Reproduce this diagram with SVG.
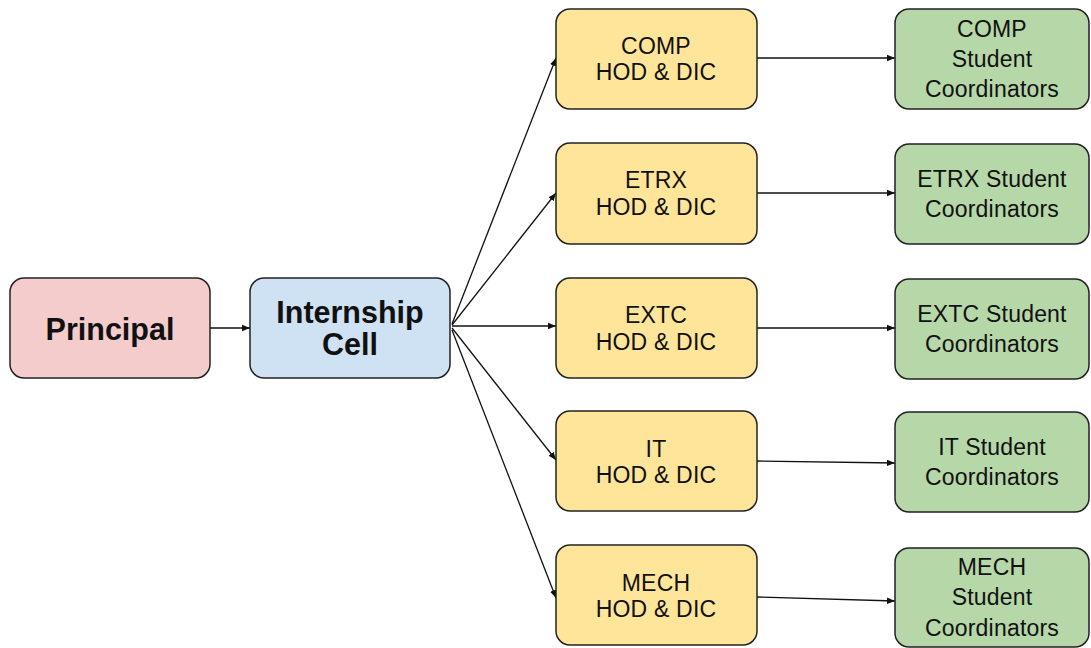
<svg xmlns="http://www.w3.org/2000/svg" width="1091" height="648" viewBox="0 0 1091 648" font-family="Liberation Sans, Arial, sans-serif">
<style>
.n{stroke:#222;stroke-width:1.5}
.p{fill:#f4cccc}.b{fill:#cfe2f3}.y{fill:#ffe599}.g{fill:#b6d7a8}
text{font-family:"Liberation Sans",Arial,sans-serif;fill:#111;text-anchor:middle}
.big{font-size:30.5px;font-weight:bold}
.sm{font-size:23px;letter-spacing:0.2px}
.c{stroke:#111;stroke-width:1.3;fill:none;marker-end:url(#ah)}
</style>
<defs>
<marker id="ah" viewBox="0 0 10 10" refX="10" refY="5" markerWidth="8" markerHeight="8" markerUnits="userSpaceOnUse" orient="auto">
<path d="M0,1 L10,5 L0,9 z" fill="#111"/>
</marker>
</defs>
<rect width="1091" height="648" fill="#fff"/>
<g id="connectors">
<line class="c" x1="210" y1="328" x2="250" y2="328"/>
<line class="c" x1="452" y1="324" x2="556" y2="58"/>
<line class="c" x1="452" y1="325" x2="556" y2="193"/>
<line class="c" x1="452" y1="326" x2="556" y2="326"/>
<line class="c" x1="452" y1="328" x2="556" y2="460"/>
<line class="c" x1="452" y1="330" x2="556" y2="598"/>
<line class="c" x1="757" y1="58" x2="895" y2="58"/>
<line class="c" x1="757" y1="193" x2="895" y2="193"/>
<line class="c" x1="757" y1="328" x2="895" y2="328"/>
<line class="c" x1="757" y1="461" x2="895" y2="463"/>
<line class="c" x1="757" y1="597" x2="895" y2="601"/>
</g>
<g id="principal"><rect class="n p" x="10" y="278" width="200" height="100" rx="14"/><text class="big" x="110" y="339.5">Principal</text></g>
<g id="internship"><rect class="n b" x="250" y="278" width="200" height="100" rx="14"/><text class="big" x="350" y="323">Internship</text><text class="big" x="350" y="355">Cell</text></g>
<g id="comp-hod"><rect class="n y" x="556" y="9" width="201" height="100" rx="14"/><text class="sm" x="656" y="53.5">COMP</text><text class="sm" x="656" y="80">HOD &amp; DIC</text></g>
<g id="etrx-hod"><rect class="n y" x="556" y="143" width="201" height="101" rx="14"/><text class="sm" x="656" y="188.3">ETRX</text><text class="sm" x="656" y="215">HOD &amp; DIC</text></g>
<g id="extc-hod"><rect class="n y" x="556" y="278" width="201" height="100" rx="14"/><text class="sm" x="656" y="323">EXTC</text><text class="sm" x="656" y="350">HOD &amp; DIC</text></g>
<g id="it-hod"><rect class="n y" x="556" y="411" width="201" height="100" rx="14"/><text class="sm" x="656" y="456.5">IT</text><text class="sm" x="656" y="483">HOD &amp; DIC</text></g>
<g id="mech-hod"><rect class="n y" x="556" y="545" width="201" height="100" rx="14"/><text class="sm" x="656" y="590.5">MECH</text><text class="sm" x="656" y="617">HOD &amp; DIC</text></g>
<g id="comp-sc"><rect class="n g" x="895" y="9" width="194" height="100" rx="14"/><text class="sm" x="992" y="36.5">COMP</text><text class="sm" x="992" y="67">Student</text><text class="sm" x="992" y="97.3">Coordinators</text></g>
<g id="etrx-sc"><rect class="n g" x="895" y="144" width="194" height="100" rx="14"/><text class="sm" x="992" y="186.5">ETRX Student</text><text class="sm" x="992" y="217">Coordinators</text></g>
<g id="extc-sc"><rect class="n g" x="895" y="279" width="194" height="100" rx="14"/><text class="sm" x="992" y="321.5">EXTC Student</text><text class="sm" x="992" y="352">Coordinators</text></g>
<g id="it-sc"><rect class="n g" x="895" y="412" width="194" height="100" rx="14"/><text class="sm" x="992" y="454.5">IT Student</text><text class="sm" x="992" y="485">Coordinators</text></g>
<g id="mech-sc"><rect class="n g" x="895" y="548" width="194" height="99" rx="14"/><text class="sm" x="992" y="574.7">MECH</text><text class="sm" x="992" y="605.2">Student</text><text class="sm" x="992" y="635.7">Coordinators</text></g>
</svg>
